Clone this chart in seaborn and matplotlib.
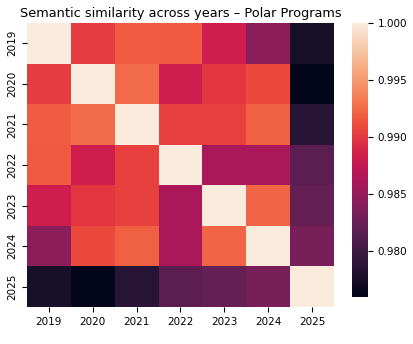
import numpy as np
import pandas as pd
import matplotlib
matplotlib.use("Agg")
import matplotlib.pyplot as plt
import matplotlib.ticker as mticker
import seaborn as sns

years = ["2019", "2020", "2021", "2022", "2023", "2024", "2025"]
row_2019 = [1.0000, 0.9902, 0.9918, 0.9917, 0.9882, 0.9845, 0.9775]
row_2020 = [0.9902, 1.0000, 0.9925, 0.9882, 0.9899, 0.9909, 0.9760]
row_2021 = [0.9918, 0.9925, 1.0000, 0.9904, 0.9905, 0.9920, 0.9786]
row_2022 = [0.9917, 0.9882, 0.9904, 1.0000, 0.9861, 0.9862, 0.9818]
row_2023 = [0.9882, 0.9899, 0.9905, 0.9861, 1.0000, 0.9922, 0.9822]
row_2024 = [0.9845, 0.9909, 0.9920, 0.9862, 0.9922, 1.0000, 0.9834]
row_2025 = [0.9775, 0.9760, 0.9786, 0.9818, 0.9822, 0.9834, 1.0000]

df = pd.DataFrame([row_2019, row_2020, row_2021, row_2022, row_2023, row_2024, row_2025],
                  index=years, columns=years)

fig = plt.figure(figsize=(4.14, 3.44), dpi=100)
ax = fig.add_axes([27/414, 1-307/344, (334-27)/414, (307-23)/344])
cax = fig.add_axes([352/414, 1-297/344, 16/414, (297-23)/344])
sns.heatmap(df, ax=ax, cbar_ax=cax, cmap="rocket")
ax.set_title("Semantic similarity across years – Polar Programs", fontsize=9.3, pad=4)
ax.tick_params(axis="both", labelsize=7.5)
plt.setp(ax.get_yticklabels(), rotation=90, va="center")
plt.setp(ax.get_xticklabels(), rotation=0)
cax.tick_params(labelsize=7.5)
cax.yaxis.set_major_formatter(mticker.FormatStrFormatter("%.3f"))
fig.savefig("out.png", dpi=100)
